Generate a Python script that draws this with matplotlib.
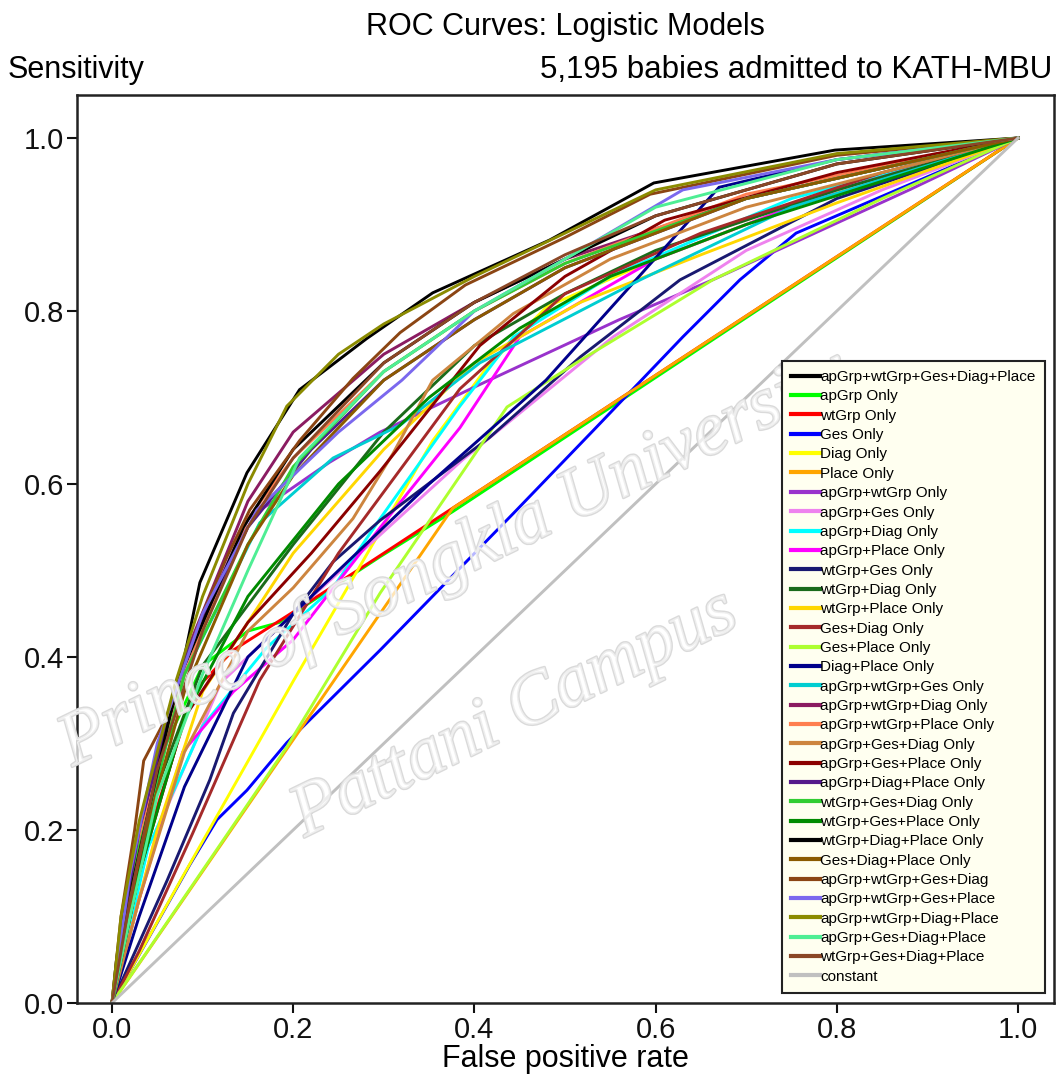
"""ROC curves for the logistic models fitted to the KATH-MBU admissions.

All 31 covariate subsets plus the constant-only model, drawn on one panel
with a legend box in the lower right.
"""

import matplotlib
matplotlib.use("Agg")
import matplotlib.pyplot as plt
import matplotlib.patheffects as pe

# ── ROC points (false positive rate, sensitivity) ─────────────────────────────

full_fpr = [0, 0.005, 0.017, 0.045, 0.067, 0.097, 0.149, 0.207, 0.281, 0.354, 0.483, 0.598, 0.798, 1]
full_tpr = [0, 0.05, 0.14, 0.24, 0.335, 0.486, 0.613, 0.709, 0.768, 0.821, 0.882, 0.948, 0.986, 1]

ap_fpr = [0, 0.02, 0.06, 0.1, 0.15, 0.185, 0.296, 0.376, 1]
ap_tpr = [0, 0.12, 0.3, 0.39, 0.43, 0.44, 0.516, 0.568, 1]

wt_fpr = [0, 0.03, 0.09, 0.134, 0.215, 0.3, 1]
wt_tpr = [0, 0.16, 0.36, 0.408, 0.462, 0.52, 1]

ges_fpr = [0, 0.086, 0.116, 0.149, 0.193, 0.296, 0.443, 0.535, 0.63, 0.693, 0.755, 1]
ges_tpr = [0, 0.16, 0.212, 0.246, 0.301, 0.408, 0.566, 0.666, 0.77, 0.836, 0.89, 1]

diag_fpr = [0, 0.078, 0.2, 0.354, 0.414, 0.48, 0.6, 0.75, 0.88, 1]
diag_tpr = [0, 0.146, 0.372, 0.65, 0.735, 0.805, 0.86, 0.92, 0.965, 1]

place_fpr = [0, 0.376, 1]
place_tpr = [0, 0.572, 1]

ap_wt_fpr = [0, 0.03, 0.08, 0.15, 0.24, 0.296, 0.406, 0.56, 0.663, 0.88, 1]
ap_wt_tpr = [0, 0.2, 0.4, 0.56, 0.625, 0.66, 0.715, 0.79, 0.836, 0.94, 1]

ap_ges_fpr = [0, 0.05, 0.12, 0.2, 0.3, 0.387, 0.553, 0.7, 0.85, 1]
ap_ges_tpr = [0, 0.2, 0.37, 0.45, 0.545, 0.628, 0.77, 0.87, 0.94, 1]

ap_diag_fpr = [0, 0.04, 0.1, 0.17, 0.244, 0.296, 0.384, 0.443, 0.55, 0.75, 1]
ap_diag_tpr = [0, 0.18, 0.32, 0.41, 0.48, 0.56, 0.69, 0.77, 0.84, 0.93, 1]

ap_place_fpr = [0, 0.03, 0.078, 0.134, 0.2, 0.3, 0.384, 0.45, 0.6, 0.8, 1]
ap_place_tpr = [0, 0.12, 0.29, 0.36, 0.42, 0.555, 0.665, 0.77, 0.86, 0.94, 1]

wt_ges_fpr = [0, 0.061, 0.108, 0.134, 0.2, 0.244, 0.296, 0.417, 0.517, 0.627, 0.8, 1]
wt_ges_tpr = [0, 0.142, 0.258, 0.335, 0.45, 0.51, 0.558, 0.654, 0.747, 0.836, 0.93, 1]

wt_diag_fpr = [0, 0.05, 0.1, 0.2, 0.3, 0.4, 0.5, 0.6, 0.8, 1]
wt_diag_tpr = [0, 0.25, 0.39, 0.53, 0.66, 0.76, 0.82, 0.87, 0.94, 1]

wt_place_fpr = [0, 0.05, 0.1, 0.2, 0.3, 0.4, 0.517, 0.65, 0.8, 1]
wt_place_tpr = [0, 0.2, 0.36, 0.52, 0.64, 0.74, 0.81, 0.865, 0.925, 1]

ges_diag_fpr = [0, 0.03, 0.089, 0.163, 0.25, 0.384, 0.5, 0.65, 0.85, 1]
ges_diag_tpr = [0, 0.06, 0.196, 0.373, 0.52, 0.71, 0.82, 0.89, 0.96, 1]

ges_place_fpr = [0, 0.193, 0.296, 0.436, 0.517, 0.663, 0.85, 1]
ges_place_tpr = [0, 0.296, 0.474, 0.689, 0.743, 0.836, 0.93, 1]

diag_place_fpr = [0, 0.03, 0.08, 0.15, 0.25, 0.35, 0.479, 0.67, 0.8, 1]
diag_place_tpr = [0, 0.1, 0.25, 0.4, 0.5, 0.6, 0.72, 0.943, 0.975, 1]

ap_wt_ges_fpr = [0, 0.03, 0.08, 0.163, 0.244, 0.318, 0.406, 0.583, 0.75, 1]
ap_wt_ges_tpr = [0, 0.18, 0.38, 0.555, 0.63, 0.668, 0.74, 0.836, 0.92, 1]

ap_wt_diag_fpr = [0, 0.03, 0.08, 0.15, 0.2, 0.3, 0.4, 0.5, 0.7, 1]
ap_wt_diag_tpr = [0, 0.2, 0.4, 0.58, 0.66, 0.75, 0.81, 0.86, 0.93, 1]

ap_wt_place_fpr = [0, 0.03, 0.08, 0.15, 0.2, 0.3, 0.4, 0.5, 0.7, 1]
ap_wt_place_tpr = [0, 0.19, 0.38, 0.56, 0.63, 0.73, 0.8, 0.855, 0.935, 1]

ap_ges_diag_fpr = [0, 0.03, 0.08, 0.15, 0.2, 0.266, 0.31, 0.354, 0.443, 0.55, 0.7, 1]
ap_ges_diag_tpr = [0, 0.12, 0.29, 0.43, 0.48, 0.56, 0.635, 0.72, 0.797, 0.86, 0.92, 1]

ap_ges_place_fpr = [0, 0.03, 0.08, 0.15, 0.22, 0.296, 0.406, 0.5, 0.61, 0.8, 1]
ap_ges_place_tpr = [0, 0.15, 0.33, 0.44, 0.52, 0.615, 0.76, 0.84, 0.905, 0.96, 1]

ap_diag_place_fpr = [0, 0.03, 0.08, 0.15, 0.22, 0.3, 0.4, 0.5, 0.7, 1]
ap_diag_place_tpr = [0, 0.2, 0.4, 0.55, 0.64, 0.72, 0.79, 0.85, 0.93, 1]

wt_ges_diag_fpr = [0, 0.03, 0.08, 0.15, 0.2, 0.3, 0.4, 0.5, 0.7, 1]
wt_ges_diag_tpr = [0, 0.18, 0.38, 0.53, 0.62, 0.73, 0.8, 0.855, 0.93, 1]

wt_ges_place_fpr = [0, 0.03, 0.08, 0.15, 0.25, 0.35, 0.45, 0.55, 0.7, 1]
wt_ges_place_tpr = [0, 0.15, 0.33, 0.47, 0.6, 0.7, 0.78, 0.84, 0.9, 1]

wt_diag_place_fpr = [0, 0.01, 0.023, 0.072, 0.145, 0.2, 0.3, 0.4, 0.5, 0.6, 0.8, 1]
wt_diag_place_tpr = [0, 0.06, 0.14, 0.37, 0.55, 0.64, 0.74, 0.81, 0.86, 0.91, 0.97, 1]

ges_diag_place_fpr = [0, 0.03, 0.08, 0.15, 0.2, 0.3, 0.4, 0.5, 0.7, 1]
ges_diag_place_tpr = [0, 0.17, 0.36, 0.53, 0.61, 0.72, 0.79, 0.85, 0.93, 1]

ap_wt_ges_diag_fpr = [0, 0.01, 0.025, 0.035, 0.06, 0.1, 0.127, 0.152, 0.207, 0.266, 0.318, 0.39, 0.5, 0.594, 0.8, 1]
ap_wt_ges_diag_tpr = [0, 0.1, 0.2, 0.28, 0.33, 0.45, 0.516, 0.57, 0.65, 0.722, 0.775, 0.83, 0.885, 0.935, 0.98, 1]

ap_wt_ges_place_fpr = [0, 0.02, 0.05, 0.1, 0.16, 0.25, 0.32, 0.4, 0.5, 0.63, 0.8, 1]
ap_wt_ges_place_tpr = [0, 0.15, 0.3, 0.45, 0.57, 0.66, 0.72, 0.8, 0.86, 0.94, 0.975, 1]

ap_wt_diag_place_fpr = [0, 0.01, 0.03, 0.07, 0.1, 0.15, 0.193, 0.25, 0.3, 0.4, 0.5, 0.6, 0.8, 1]
ap_wt_diag_place_tpr = [0, 0.1, 0.21, 0.37, 0.47, 0.6, 0.69, 0.75, 0.785, 0.84, 0.89, 0.94, 0.982, 1]

ap_ges_diag_place_fpr = [0, 0.02, 0.05, 0.1, 0.15, 0.207, 0.3, 0.4, 0.5, 0.6, 0.8, 1]
ap_ges_diag_place_tpr = [0, 0.1, 0.24, 0.38, 0.5, 0.63, 0.73, 0.8, 0.86, 0.92, 0.975, 1]

wt_ges_diag_place_fpr = [0, 0.02, 0.05, 0.1, 0.15, 0.2, 0.3, 0.4, 0.5, 0.6, 0.8, 1]
wt_ges_diag_place_tpr = [0, 0.12, 0.27, 0.43, 0.55, 0.63, 0.74, 0.81, 0.865, 0.91, 0.97, 1]

const_fpr = [0, 1]
const_tpr = [0, 1]

LABELS = [
    "apGrp+wtGrp+Ges+Diag+Place", "apGrp Only", "wtGrp Only", "Ges Only",
    "Diag Only", "Place Only", "apGrp+wtGrp Only", "apGrp+Ges Only",
    "apGrp+Diag Only", "apGrp+Place Only", "wtGrp+Ges Only", "wtGrp+Diag Only",
    "wtGrp+Place Only", "Ges+Diag Only", "Ges+Place Only", "Diag+Place Only",
    "apGrp+wtGrp+Ges Only", "apGrp+wtGrp+Diag Only", "apGrp+wtGrp+Place Only",
    "apGrp+Ges+Diag Only", "apGrp+Ges+Place Only", "apGrp+Diag+Place Only",
    "wtGrp+Ges+Diag Only", "wtGrp+Ges+Place Only", "wtGrp+Diag+Place Only",
    "Ges+Diag+Place Only", "apGrp+wtGrp+Ges+Diag", "apGrp+wtGrp+Ges+Place",
    "apGrp+wtGrp+Diag+Place", "apGrp+Ges+Diag+Place", "wtGrp+Ges+Diag+Place",
    "constant",
]

COLORS = [
    "#000000", "#00ff00", "#ff0000", "#0000ff", "#ffff00", "#ffa500",
    "#9932cc", "#ee82ee", "#00ffff", "#ff00ff", "#191970", "#1a6b1a",
    "#ffd700", "#a52a2a", "#adff2f", "#00008b", "#00ced1", "#8b1c62",
    "#ff7f50", "#cd853f", "#8b0000", "#551a8b", "#32cd32", "#008b00",
    "#000000", "#8b5a00", "#8b4513", "#7b68ee", "#8b8b00", "#4eee94",
    "#8b4726", "#c0c0c0",
]

CURVES = [
    (full_fpr, full_tpr), (ap_fpr, ap_tpr), (wt_fpr, wt_tpr), (ges_fpr, ges_tpr),
    (diag_fpr, diag_tpr), (place_fpr, place_tpr), (ap_wt_fpr, ap_wt_tpr),
    (ap_ges_fpr, ap_ges_tpr), (ap_diag_fpr, ap_diag_tpr), (ap_place_fpr, ap_place_tpr),
    (wt_ges_fpr, wt_ges_tpr), (wt_diag_fpr, wt_diag_tpr), (wt_place_fpr, wt_place_tpr),
    (ges_diag_fpr, ges_diag_tpr), (ges_place_fpr, ges_place_tpr),
    (diag_place_fpr, diag_place_tpr), (ap_wt_ges_fpr, ap_wt_ges_tpr),
    (ap_wt_diag_fpr, ap_wt_diag_tpr), (ap_wt_place_fpr, ap_wt_place_tpr),
    (ap_ges_diag_fpr, ap_ges_diag_tpr), (ap_ges_place_fpr, ap_ges_place_tpr),
    (ap_diag_place_fpr, ap_diag_place_tpr), (wt_ges_diag_fpr, wt_ges_diag_tpr),
    (wt_ges_place_fpr, wt_ges_place_tpr), (wt_diag_place_fpr, wt_diag_place_tpr),
    (ges_diag_place_fpr, ges_diag_place_tpr), (ap_wt_ges_diag_fpr, ap_wt_ges_diag_tpr),
    (ap_wt_ges_place_fpr, ap_wt_ges_place_tpr), (ap_wt_diag_place_fpr, ap_wt_diag_place_tpr),
    (ap_ges_diag_place_fpr, ap_ges_diag_place_tpr),
    (wt_ges_diag_place_fpr, wt_ges_diag_place_tpr), (const_fpr, const_tpr),
]

TICKS = [0.0, 0.2, 0.4, 0.6, 0.8, 1.0]

plt.rcParams["font.family"] = ["Liberation Sans", "DejaVu Sans"]

W, H = 1056, 1080
fig = plt.figure(figsize=(W / 100, H / 100), dpi=100)
fig.patch.set_facecolor("white")

# axes frame in pixel terms: left 77, right 1054, top 95, bottom 1003
ax = fig.add_axes([77 / W, 1 - 1003 / H, (1054 - 77) / W, (1003 - 95) / H])
ax.set_xlim(-0.0386, 1.0397)
ax.set_ylim(0.0, 1.0497)

for (fpr, tpr), lab, col in zip(CURVES, LABELS, COLORS):
    ax.plot(fpr, tpr, color=col, lw=2.1, label=lab, solid_joinstyle="miter")

ax.set_xticks(TICKS)
ax.set_yticks(TICKS)
ax.set_xticklabels([f"{t:.1f}" for t in TICKS])
ax.set_yticklabels([f"{t:.1f}" for t in TICKS])
ax.tick_params(direction="out", length=7, width=1.5, labelsize=21, pad=2, colors="#111111")
for s in ax.spines.values():
    s.set_linewidth(1.8)
    s.set_color("#222222")

ax.set_xlabel("False positive rate", fontsize=22, labelpad=0)

# ── titles ───────────────────────────────────────────────────────────────────
fig.text(565 / W, 1 - 27 / H, "ROC Curves: Logistic Models", ha="center", va="center", fontsize=22)
fig.text(8 / W, 1 - 70 / H, "Sensitivity", ha="left", va="center", fontsize=22)
fig.text(1052 / W, 1 - 70 / H, "5,195 babies admitted to KATH-MBU", ha="right", va="center", fontsize=22.5)

# ── watermark ────────────────────────────────────────────────────────────────
wm_style = dict(ha="center", va="center", rotation=26, fontsize=54,
                family="Liberation Serif", style="italic", color=(1, 1, 1, 0.35),
                zorder=5,
                path_effects=[pe.withStroke(linewidth=2.0, foreground="#dadada"), pe.Normal()])
ax.text(455 / W, 1 - 560 / H, "Prince of Songkla University", transform=fig.transFigure, **wm_style)
ax.text(515 / W, 1 - 715 / H, "Pattani Campus", transform=fig.transFigure, **wm_style)

# ── legend ───────────────────────────────────────────────────────────────────
leg = ax.legend(loc="lower right", bbox_to_anchor=(1045 / W, 1 - 993 / H),
                bbox_transform=fig.transFigure, borderaxespad=0, fontsize=11,
                labelspacing=0.35, handlelength=1.95, handletextpad=0.0,
                borderpad=0.6, fancybox=False, framealpha=1, edgecolor="#222222",
                facecolor="#fffff0")
leg.get_frame().set_linewidth(1.5)
leg.set_zorder(10)
for line in leg.get_lines():
    line.set_linewidth(3)

fig.savefig("out.png", dpi=100)
